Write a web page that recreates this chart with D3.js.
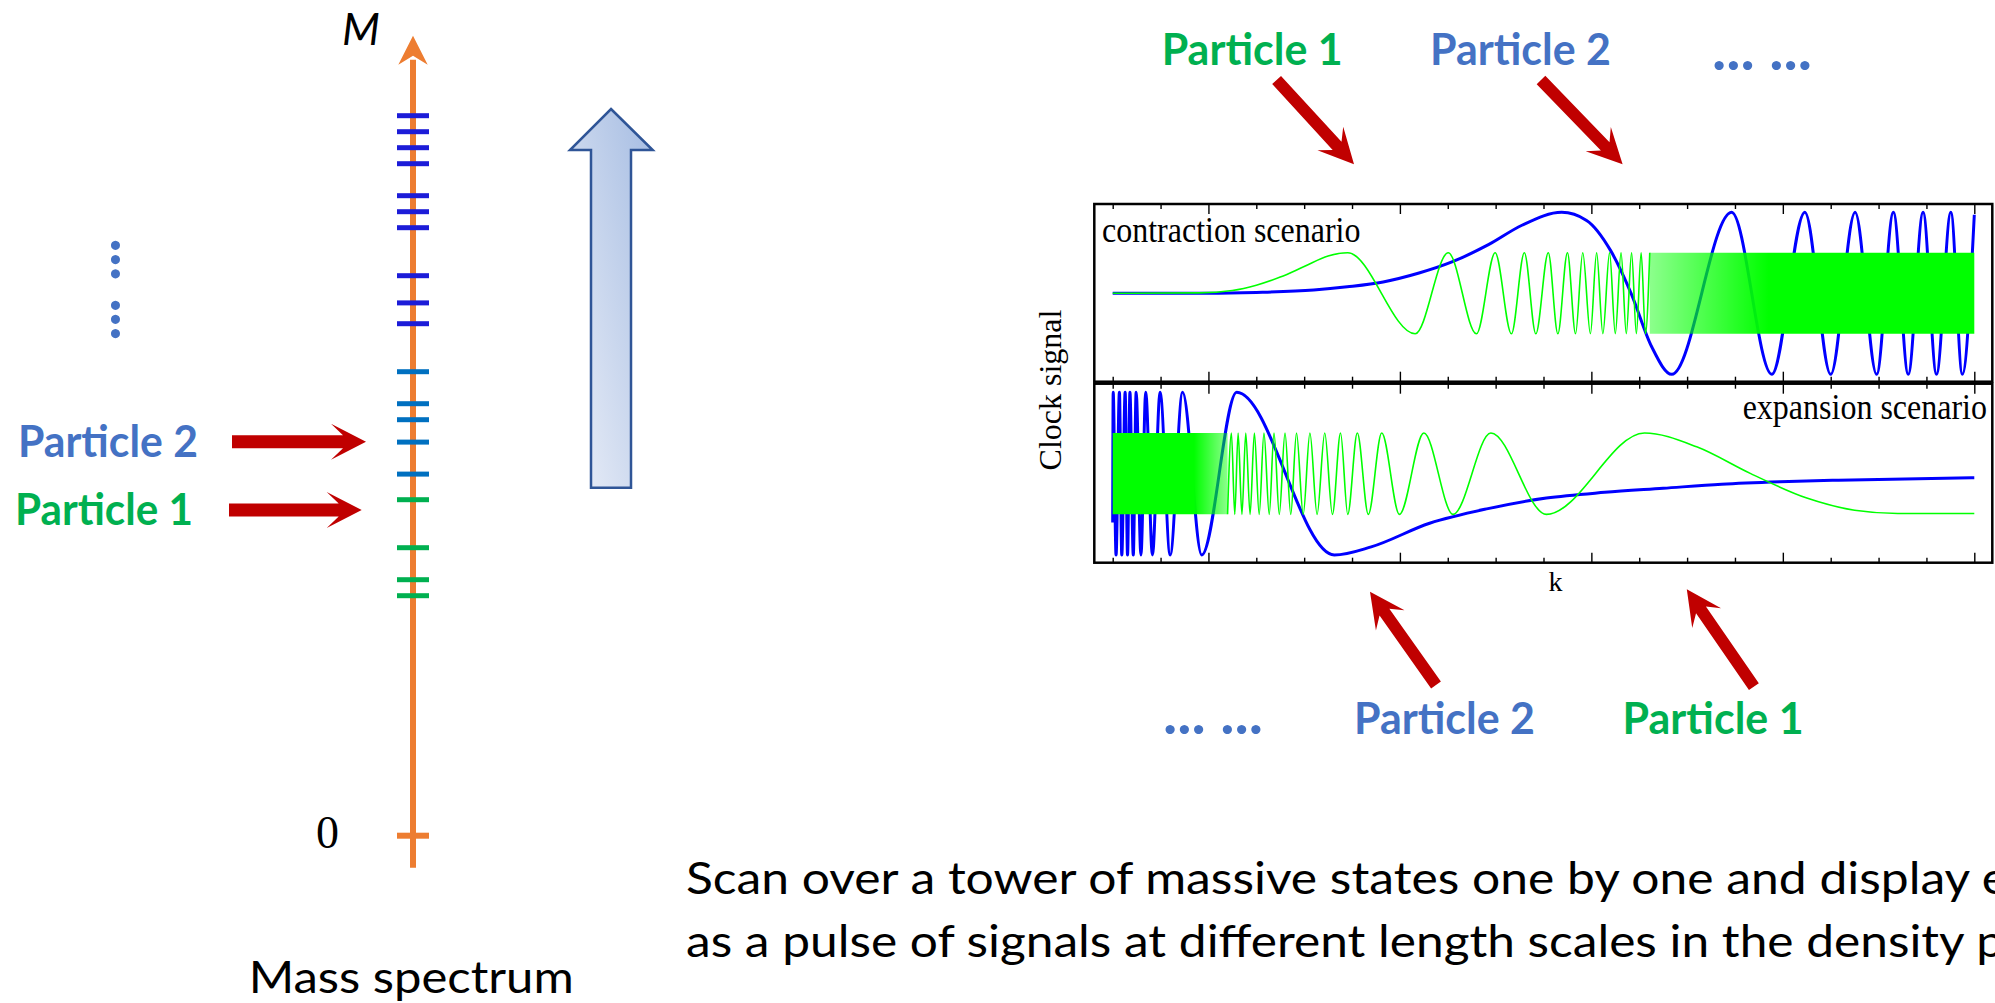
<!DOCTYPE html>
<html>
<head>
<meta charset="utf-8">
<script src="https://cdn.jsdelivr.net/npm/d3@7"></script>
<style>
  html, body { margin: 0; padding: 0; background: #fff; overflow: hidden; }
  svg { display: block; }
</style>
</head>
<body>
<svg id="chart" width="1995" height="1003"></svg>
<script>
// ---- data ----
// mass spectrum levels (axis units, 0 at the orange zero tick)
const massHeavy = [45, 44, 43, 42, 40, 39, 38, 35, 33.3, 32];
const massMid = [29, 27, 26, 24.6, 22.6];
const massLight = [21, 18, 16, 15];
const massTop = 50;

// clock signal panels, k measured in tick steps
const kTicks = d3.range(0, 19);
const kMajor = [2, 6, 10, 14, 18];

// contraction scenario (upper panel)
const conBlue = [[0, 0], [2, 0], [3, 0.01], [4.2, 0.04], [4.9, 0.08], [5.65, 0.14], [6.4, 0.25],
  [7.1, 0.39], [7.85, 0.6], [8.55, 0.84], [9.38, 1], [9.9, 0.9], [10.4, 0.53], [10.83, 0],
  [11.26, -0.66], [11.68, -1]];
const conBlueExtrema = [12.93, 13.77, 14.46, 15.0, 15.51, 15.96, 16.31, 16.62, 16.93, 17.21, 17.51, 17.75];
const conBlueEnd = [18, 0.97];
const conGreenRise = [[0, 0], [1.8, 0.005], [2.5, 0.035], [3, 0.1], [3.5, 0.2], [4, 0.33], [4.5, 0.46], [4.91, 0.5]];
const conGreenExtrema = [6.32, 7.01, 7.6, 7.99, 8.33, 8.6, 8.84, 9.1, 9.3, 9.5, 9.67, 9.82, 9.98,
  10.11, 10.24, 10.38, 10.5, 10.62, 10.73, 10.84, 10.94, 11.04, 11.13, 11.22];
const conGreenBand = [11.22, 13.7, 18]; // start, fully solid from, end

// expansion scenario (lower panel)
const expBlueStart = [0, -0.6];
const expBlueExtrema = [0.01, 0.07, 0.14, 0.19, 0.26, 0.31, 0.36, 0.43, 0.49, 0.59, 0.69, 0.83,
  0.99, 1.2, 1.46, 1.86, 2.59, 4.63];
const expBlueTail = [[5.4, -0.9], [6.62, -0.61], [7.84, -0.43], [9.06, -0.3], [10.28, -0.23],
  [11.5, -0.18], [12.72, -0.13], [13.94, -0.1], [15.16, -0.08], [18, -0.05]];
const expGreenBand = [0, 1.7, 2.4]; // start, solid until, end
const expGreenExtrema = [2.4, 2.48, 2.55, 2.62, 2.7, 2.78, 2.87, 2.96, 3.06, 3.16, 3.27, 3.37, 3.48,
  3.6, 3.72, 3.84, 3.98, 4.12, 4.27, 4.43, 4.59, 4.76, 4.91, 5.11, 5.34, 5.62, 5.99, 6.5, 7.11, 7.9, 9.06, 11.11];
const expGreenTail = [[12.2, 0.33], [13.33, 0], [14.5, -0.3], [15.5, -0.45], [16.4, -0.49], [18, -0.49]];

// ---- drawing ----
const svg = d3.select('#chart');
const defs = svg.append('defs');

const RED = '#C00000', P_BLUE = '#4472C4', P_GREEN = '#00B050', ORANGE = '#ED7D31';
const SANS = 'Lato, "Open Sans", sans-serif';
const SERIF = '"Liberation Serif", "DejaVu Serif", serif';

const label = (txt, x, y, size, opts = {}) => {
  const t = svg.append('text').attr('x', x).attr('y', y).text(txt)
    .attr('font-family', opts.family || SANS).attr('font-size', size)
    .attr('fill', opts.fill || '#000');
  if (opts.bold) t.attr('font-weight', 700);
  if (opts.italic) t.attr('font-style', 'italic');
  if (opts.anchor) t.attr('text-anchor', opts.anchor);
  if (opts.len) t.attr('textLength', opts.len).attr('lengthAdjust', opts.adjust || 'spacingAndGlyphs');
  if (opts.transform) t.attr('transform', opts.transform);
  return t;
};

// red block arrow from tail to tip
const blockArrow = (x0, y0, x1, y1, w, hl, hw, sweep) => {
  const L = Math.hypot(x1 - x0, y1 - y0);
  const ux = (x1 - x0) / L, uy = (y1 - y0) / L;
  const p = (a, b) => [x0 + ux * a - uy * b, y0 + uy * a + ux * b];
  const neck = L - hl + sweep;
  const pts = [p(0, w / 2), p(neck, w / 2), p(L - hl, hw / 2), p(L, 0), p(L - hl, -hw / 2), p(neck, -w / 2), p(0, -w / 2)];
  svg.append('polygon').attr('points', pts.map(d => d.join(',')).join(' ')).attr('fill', RED);
};

// ---------- mass spectrum ----------
const axisX = 413;
const yM = d3.scaleLinear().domain([0, massTop]).range([835.7, 35.7]);

svg.append('line')
  .attr('x1', axisX).attr('x2', axisX).attr('y1', yM(-2)).attr('y2', yM(massTop) + 24)
  .attr('stroke', ORANGE).attr('stroke-width', 6);
svg.append('polygon')
  .attr('points', [[axisX, yM(massTop)], [axisX - 14.7, yM(massTop) + 29], [axisX, yM(massTop) + 20], [axisX + 14.7, yM(massTop) + 29]].map(d => d.join(',')).join(' '))
  .attr('fill', ORANGE);

const levels = svg.append('g');
[[massHeavy, '#1C1CD8'], [massMid, '#0070C0'], [massLight, P_GREEN], [[0], ORANGE]].forEach(([arr, col]) => {
  levels.selectAll(null).data(arr).enter().append('line')
    .attr('x1', axisX - 16).attr('x2', axisX + 16)
    .attr('y1', d => yM(d)).attr('y2', d => yM(d))
    .attr('stroke', col).attr('stroke-width', d => d === 0 ? 6 : 5);
});

label('M', 342, 45, 44, { italic: true });
label('0', 327.5, 848, 46, { family: SERIF, anchor: 'middle' });
label('Mass spectrum', 248.7, 993, 44, { len: 325 });

// vertical dots
label('...', 111, 259.7, 60, { bold: true, fill: P_BLUE, anchor: 'middle', transform: 'rotate(90,111,259.7)' });
label('...', 111, 319.5, 60, { bold: true, fill: P_BLUE, anchor: 'middle', transform: 'rotate(90,111,319.5)' });

label('Particle 2', 18, 456.7, 44, { bold: true, fill: P_BLUE, len: 180 });
label('Particle 1', 15, 525, 44, { bold: true, fill: P_GREEN, len: 178 });
blockArrow(232, 441.7, 366, 441.7, 13, 35, 36, 12);
blockArrow(229, 510, 361.7, 510, 13, 35, 36, 12);

// big shaded arrow
const grad = defs.append('linearGradient').attr('id', 'bigArrow')
  .attr('x1', '0%').attr('y1', '100%').attr('x2', '100%').attr('y2', '0%');
grad.append('stop').attr('offset', '0%').attr('stop-color', '#EBEFF8');
grad.append('stop').attr('offset', '100%').attr('stop-color', '#A5BCE2');
svg.append('polygon')
  .attr('points', [[611, 109], [652.7, 150], [631, 150], [631, 487.7], [591, 487.7], [591, 150], [570, 150]].map(d => d.join(',')).join(' '))
  .attr('fill', 'url(#bigArrow)').attr('stroke', '#2F5597').attr('stroke-width', 2.5).attr('stroke-linejoin', 'miter');

// ---------- clock signal chart ----------
const frame = { left: 1094.3, right: 1992.3, top: 204, mid: 382.7, bottom: 562.7 };
const xK = d3.scaleLinear().domain([0, 18]).range([1112.7, 1974.3]);
const yTop = d3.scaleLinear().domain([-1, 1]).range([374.3, 212.3]);
const yBot = d3.scaleLinear().domain([-1, 1]).range([555, 392.3]);

// alternate peaks and troughs at the listed k positions
const alt = (ks, first, amp) => ks.map((k, i) => [k, (i % 2 ? -first : first) * amp]);

const conBluePts = conBlue.concat(alt(conBlueExtrema, 1, 1), [conBlueEnd]);
const conGreenPts = conGreenRise.concat(alt(conGreenExtrema, -1, 0.5));
const expBluePts = [expBlueStart].concat(alt(expBlueExtrema, 1, 1), expBlueTail);
const expGreenPts = alt(expGreenExtrema, -1, 0.5).concat(expGreenTail);

const clipTop = defs.append('clipPath').attr('id', 'clipTop');
clipTop.append('rect').attr('x', frame.left).attr('y', frame.top).attr('width', frame.right - frame.left).attr('height', frame.mid - frame.top);
const clipBot = defs.append('clipPath').attr('id', 'clipBot');
clipBot.append('rect').attr('x', frame.left).attr('y', frame.mid).attr('width', frame.right - frame.left).attr('height', frame.bottom - frame.mid);

const lineFor = y => d3.line().x(d => xK(d[0])).y(d => y(d[1])).curve(d3.curveMonotoneX);

// band gradients for the dense green oscillation
const bandGrad = (id, xa, xb, oa, ob) => {
  const g = defs.append('linearGradient').attr('id', id).attr('gradientUnits', 'userSpaceOnUse')
    .attr('x1', xa).attr('x2', xb).attr('y1', 0).attr('y2', 0);
  g.append('stop').attr('offset', 0).attr('stop-color', '#00FF00').attr('stop-opacity', oa);
  g.append('stop').attr('offset', 1).attr('stop-color', '#00FF00').attr('stop-opacity', ob);
};
bandGrad('bandTop', xK(conGreenBand[0]), xK(conGreenBand[1]), 0.45, 1);
bandGrad('bandBot', xK(expGreenBand[1]), xK(expGreenBand[2]), 1, 0.45);

const bandArea = y => d3.area().x(d => xK(d)).y0(y(-0.5)).y1(y(0.5));

// upper panel
const gTop = svg.append('g').attr('clip-path', 'url(#clipTop)');
gTop.append('path').attr('d', lineFor(yTop)(conBluePts)).attr('fill', 'none').attr('stroke', '#0000FF').attr('stroke-width', 3);
gTop.append('path').attr('d', bandArea(yTop)([conGreenBand[0], conGreenBand[2]])).attr('fill', 'url(#bandTop)');
gTop.append('path').attr('d', lineFor(yTop)(conGreenPts)).attr('fill', 'none').attr('stroke', '#00FF00').attr('stroke-width', 1.6);

// lower panel
const gBot = svg.append('g').attr('clip-path', 'url(#clipBot)');
gBot.append('path').attr('d', lineFor(yBot)(expBluePts)).attr('fill', 'none').attr('stroke', '#0000FF').attr('stroke-width', 3);
gBot.append('path').attr('d', bandArea(yBot)([expGreenBand[0], expGreenBand[2]])).attr('fill', 'url(#bandBot)');
gBot.append('path').attr('d', lineFor(yBot)(expGreenPts)).attr('fill', 'none').attr('stroke', '#00FF00').attr('stroke-width', 1.6);

// frames
svg.append('rect').attr('x', frame.left).attr('y', frame.top).attr('width', frame.right - frame.left).attr('height', frame.mid - 1 - frame.top)
  .attr('fill', 'none').attr('stroke', '#000').attr('stroke-width', 2.5);
svg.append('rect').attr('x', frame.left).attr('y', frame.mid + 1).attr('width', frame.right - frame.left).attr('height', frame.bottom - frame.mid - 1)
  .attr('fill', 'none').attr('stroke', '#000').attr('stroke-width', 2.5);

// ticks on the four edges, pointing inward
const tickAxis = (axisFn, y) => {
  const g = svg.append('g').attr('transform', `translate(0,${y})`)
    .call(axisFn(xK).tickValues(kTicks).tickSize(-5).tickFormat(''));
  g.select('.domain').remove();
  g.selectAll('.tick line').attr('stroke', '#000').attr('stroke-width', 1.4)
    .attr('y2', d => (kMajor.includes(d) ? 10 : 5) * (axisFn === d3.axisTop ? 1 : -1));
};
tickAxis(d3.axisTop, frame.top);
tickAxis(d3.axisBottom, frame.mid - 1);
tickAxis(d3.axisTop, frame.mid + 1);
tickAxis(d3.axisBottom, frame.bottom);

label('contraction scenario', 1102, 242, 32, { family: SERIF, transform: 'translate(0,242) scale(1,1.12) translate(0,-242)' });
label('expansion scenario', 1987, 419, 32, { family: SERIF, anchor: 'end', transform: 'translate(0,419) scale(1,1.12) translate(0,-419)' });
label('Clock signal', 1061, 390, 32, { family: SERIF, anchor: 'middle', transform: 'rotate(-90,1061,390)' });
label('k', 1555.5, 591, 28, { family: SERIF, anchor: 'middle' });

// annotations around the chart
label('Particle 1', 1161.7, 65, 44, { bold: true, fill: P_GREEN, len: 181 });
label('Particle 2', 1430, 65, 44, { bold: true, fill: P_BLUE, len: 181 });
label('... ...', 1712, 70, 60, { bold: true, fill: P_BLUE, len: 100, adjust: 'spacing' });
blockArrow(1276.6, 80, 1354, 164.3, 12, 35, 35, 10);
blockArrow(1541, 80, 1622.6, 164.3, 12, 35, 35, 10);

label('... ...', 1163, 734, 60, { bold: true, fill: P_BLUE, len: 100, adjust: 'spacing' });
label('Particle 2', 1354, 734, 44, { bold: true, fill: P_BLUE, len: 181 });
label('Particle 1', 1622.6, 734, 44, { bold: true, fill: P_GREEN, len: 181 });
blockArrow(1436, 685, 1370, 591.7, 12, 35, 35, 10);
blockArrow(1753.9, 686.7, 1686.8, 589.3, 12, 35, 35, 10);

// caption
label('Scan over a tower of massive states one by one and display e', 686, 894, 45, { len: 1322 });
label('as a pulse of signals at different length scales in the density p', 686, 957.3, 45, { len: 1318 });
</script>
</body>
</html>
